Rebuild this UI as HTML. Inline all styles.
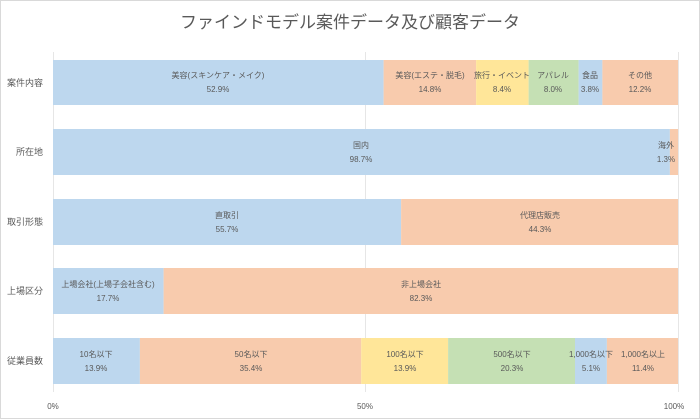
<!DOCTYPE html>
<html><head><meta charset="utf-8"><style>
html,body{margin:0;padding:0;background:#fff}
svg{display:block;font-family:"Liberation Sans","Noto Sans CJK JP",sans-serif}
</style></head><body>
<svg width="700" height="419" viewBox="0 0 700 419" xmlns="http://www.w3.org/2000/svg">
<rect x="0.5" y="0.5" width="699" height="418" fill="#fff" stroke="#d9d9d9"/>
<text x="350" y="28" text-anchor="middle" font-size="17" fill="#595959">ファインドモデル案件データ及び顧客データ</text>
<g stroke="#e6e6e6" stroke-width="1">
<line x1="53.5" y1="52" x2="53.5" y2="392"/>
<line x1="365.5" y1="52" x2="365.5" y2="392"/>
<line x1="678.5" y1="52" x2="678.5" y2="392"/>
</g>
<g font-size="8" fill="#595959" text-anchor="middle">
<!-- row1 y 60-104 -->
<rect x="53" y="60" width="330.6" height="45" fill="#BDD7EE"/>
<rect x="383.6" y="60" width="92.5" height="45" fill="#F8CBAD"/>
<rect x="476.1" y="60" width="52.5" height="45" fill="#FFE699"/>
<rect x="528.6" y="60" width="50" height="45" fill="#C5E0B4"/>
<rect x="578.6" y="60" width="23.8" height="45" fill="#BDD7EE"/>
<rect x="602.4" y="60" width="75.6" height="45" fill="#F8CBAD"/>
<text x="218" y="78">美容(スキンケア・メイク)</text><text x="218" y="92">52.9%</text>
<text x="430" y="78">美容(エステ・脱毛)</text><text x="430" y="92">14.8%</text>
<text x="502" y="78">旅行・イベント</text><text x="502" y="92">8.4%</text>
<text x="553" y="78">アパレル</text><text x="553" y="92">8.0%</text>
<text x="590" y="78">食品</text><text x="590" y="92">3.8%</text>
<text x="640" y="78">その他</text><text x="640" y="92">12.2%</text>
<!-- row2 -->
<rect x="53" y="129" width="616.9" height="46" fill="#BDD7EE"/>
<rect x="669.9" y="129" width="8.1" height="46" fill="#F8CBAD"/>
<text x="361" y="148">国内</text><text x="361" y="162">98.7%</text>
<text x="666" y="148">海外</text><text x="666" y="162">1.3%</text>
<!-- row3 -->
<rect x="53" y="199" width="348.1" height="46" fill="#BDD7EE"/>
<rect x="401.1" y="199" width="276.9" height="46" fill="#F8CBAD"/>
<text x="227" y="218">直取引</text><text x="227" y="232">55.7%</text>
<text x="540" y="218">代理店販売</text><text x="540" y="232">44.3%</text>
<!-- row4 -->
<rect x="53" y="268" width="110.6" height="46" fill="#BDD7EE"/>
<rect x="163.6" y="268" width="514.4" height="46" fill="#F8CBAD"/>
<text x="108" y="287">上場会社(上場子会社含む)</text><text x="108" y="301">17.7%</text>
<text x="421" y="287">非上場会社</text><text x="421" y="301">82.3%</text>
<!-- row5 -->
<rect x="53" y="338" width="86.9" height="46" fill="#BDD7EE"/>
<rect x="139.9" y="338" width="221.3" height="46" fill="#F8CBAD"/>
<rect x="361.2" y="338" width="86.9" height="46" fill="#FFE699"/>
<rect x="448.1" y="338" width="126.9" height="46" fill="#C5E0B4"/>
<rect x="575" y="338" width="31.9" height="46" fill="#BDD7EE"/>
<rect x="606.9" y="338" width="71.1" height="46" fill="#F8CBAD"/>
<text x="96" y="357">10名以下</text><text x="96" y="371">13.9%</text>
<text x="251" y="357">50名以下</text><text x="251" y="371">35.4%</text>
<text x="405" y="357">100名以下</text><text x="405" y="371">13.9%</text>
<text x="512" y="357">500名以下</text><text x="512" y="371">20.3%</text>
<text x="591" y="357">1,000名以下</text><text x="591" y="371">5.1%</text>
<text x="643" y="357">1,000名以上</text><text x="643" y="371">11.4%</text>
</g>
<g font-size="9" fill="#595959" text-anchor="end">
<text x="43" y="86">案件内容</text>
<text x="43" y="155">所在地</text>
<text x="43" y="225">取引形態</text>
<text x="43" y="294">上場区分</text>
<text x="43" y="364">従業員数</text>
</g>
<g font-size="8" fill="#595959" text-anchor="middle">
<text x="53" y="409">0%</text>
<text x="365" y="409">50%</text>
<text x="674" y="409">100%</text>
</g>
</svg>
</body></html>
